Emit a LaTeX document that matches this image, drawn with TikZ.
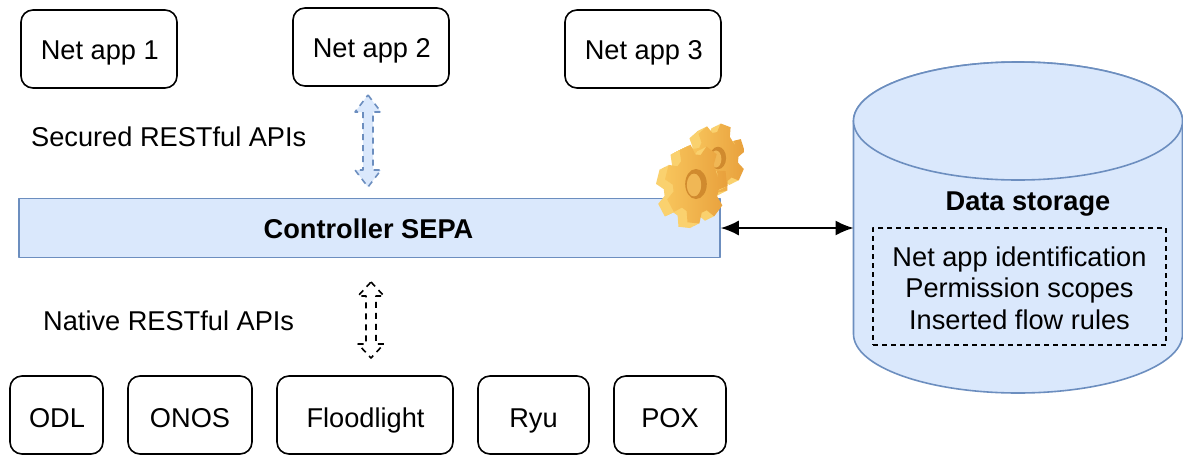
\documentclass[tikz,border=0pt]{standalone}
\usepackage{fontspec}
\setmainfont{Liberation Sans}
\usetikzlibrary{arrows.meta}
\definecolor{bfill}{HTML}{DAE8FC}
\definecolor{bline}{HTML}{6C8EBF}
\definecolor{gearA}{HTML}{F8C55C}
\definecolor{gearB}{HTML}{E8A03C}
\definecolor{gearC}{HTML}{FBD97A}
\definecolor{gearD}{HTML}{D08A2E}
\tikzset{
  appbox/.style={draw=black,line width=1.6pt,rounded corners=12pt,fill=white,font=\fontsize{27.2}{30}\selectfont,inner sep=0pt,minimum height=78pt},
  topbox/.style={appbox,text height=24pt,text depth=2.6pt,minimum width=156pt},
  botbox/.style={appbox,text height=26pt,text depth=0.6pt},
  lbl/.style={font=\fontsize{27.2}{30}\selectfont,inner sep=0pt},
  blbl/.style={font=\bfseries\fontsize{27.2}{30}\selectfont,inner sep=0pt},
  blockarrow/.style={line width=1.6pt,dash pattern=on 6pt off 5pt}
}
\begin{document}
\begin{tikzpicture}[x=1pt,y=-1pt,line join=round]
\useasboundingbox (0,0) rectangle (1183,456);
\fill[white] (0,0) rectangle (1183,456);
% top boxes
\node[topbox] (app1) at (99,49) {\hspace{1.5pt}Net app 1};
\node[topbox] (app2) at (371,47) {\hspace{1.5pt}Net app 2};
\node[topbox] (app3) at (643,49) {\hspace{1.5pt}Net app 3};
% controller
\node[draw=bline,fill=bfill,line width=1.6pt,minimum width=701pt,minimum height=59pt,inner sep=0pt] (sepa) at (369.5,228) {};
\node[blbl,anchor=base] (sepat) at (368.5,238.5) {Controller SEPA};
% labels
\node[lbl,anchor=base west] (sec) at (31,146.5) {Secured RESTful APIs};
\node[lbl,anchor=base west] (nat) at (43,330.5) {Native RESTful APIs};
% block arrows
\coordinate (ta) at (368,95);
\coordinate (tb) at (368,187);
\coordinate (ba) at (371,282);
\coordinate (bb) at (371,358);
\draw[blockarrow,draw=bline,fill=bfill] (ta) -- ++(13,17) -- ++(-8,0) -- ++(0,58) -- ++(8,0) -- (tb)
  -- ++(-13,-17) -- ++(8,0) -- ++(0,-58) -- ++(-8,0) -- cycle;
\draw[blockarrow,draw=black,fill=white] (ba) -- ++(13,14) -- ++(-8,0) -- ++(0,48) -- ++(8,0) -- (bb)
  -- ++(-13,-14) -- ++(8,0) -- ++(0,-48) -- ++(-8,0) -- cycle;
% bottom boxes
\node[botbox,minimum width=93pt] (odl) at (56.5,415) {\hspace{1pt}ODL};
\node[botbox,minimum width=124pt] (onos) at (190,415) {ONOS};
\node[botbox,minimum width=176pt] (flood) at (365,415) {\hspace{1pt}Floodlight};
\node[botbox,minimum width=111pt] (ryu) at (533.5,415) {Ryu};
\node[botbox,minimum width=112pt] (pox) at (670,415) {POX};
% cylinder
\path[draw=bline,fill=bfill,line width=1.6pt] (853.5,121) -- (853.5,334)
  arc[x radius=164.5,y radius=59,start angle=180,end angle=0] -- (1182.5,121)
  arc[x radius=164.5,y radius=59,start angle=360,end angle=180] -- cycle;
\path[draw=bline,fill=bfill,line width=1.6pt] (1018,121) ellipse[x radius=164.5,y radius=59];
\coordinate (store) at (853.5,228);
\node[blbl,anchor=base] (dstitle) at (1028,210) {Data storage};
\node[draw=black,dash pattern=on 5pt off 4pt,line width=1.6pt,minimum width=293pt,minimum height=117pt,inner sep=0pt] (dsbox) at (1019.5,286.5) {};
\node[lbl,anchor=base] (l1) at (1019.5,266.5) {Net app identification};
\node[lbl,anchor=base] (l2) at (1019.5,297.5) {Permission scopes};
\node[lbl,anchor=base] (l3) at (1019.5,329) {Inserted flow rules};
% connector
\draw[{Latex[length=18pt,width=15pt]}-{Latex[length=18pt,width=15pt]},line width=1.6pt] (sepa.east) -- (store);
% gears
\foreach \cx/\cy/\R/\r/\h/\rot in {718/158/34/25.5/9/22, 696/184/39/29/12/8}{
  \begin{scope}[shift={(\cx,\cy)}]
  \foreach \d in {10,9,...,1}{
    \fill[gearC!60!gearA,shift={(-\d*0.9,\d*0.45)},xscale=0.8,yscale=1.02,rotate=\rot]
      (0:\r) foreach \k in {0,...,6}{
        -- ({\k*360/7-19}:\r) -- ({\k*360/7-11}:\R) -- ({\k*360/7+11}:\R) -- ({\k*360/7+19}:\r)
      } -- cycle;
  }
  \shade[left color=gearA,right color=gearB,xscale=0.8,yscale=1.02,rotate=\rot]
      (0:\r) foreach \k in {0,...,6}{
        -- ({\k*360/7-19}:\r) -- ({\k*360/7-11}:\R) -- ({\k*360/7+11}:\R) -- ({\k*360/7+19}:\r)
      } -- cycle;
  \fill[gearD] (0,0) ellipse[x radius=\h*0.9,y radius=\h*1.25];
  \fill[gearB!60!gearC] (-2,1) ellipse[x radius=\h*0.6,y radius=\h*0.95];
  \end{scope}
}
\end{tikzpicture}
\end{document}
